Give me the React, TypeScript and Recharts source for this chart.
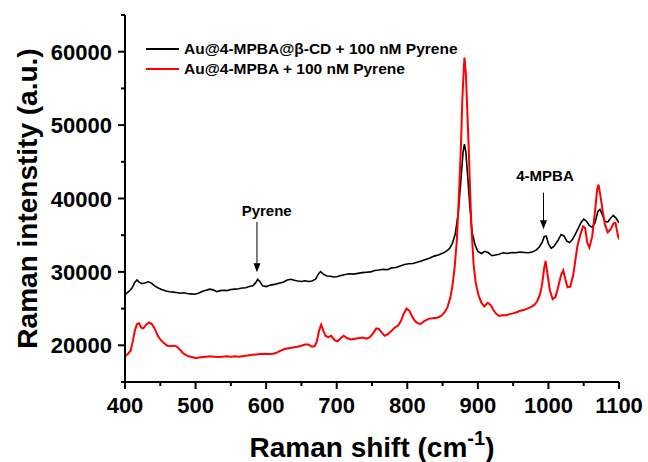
import { LineChart, Line, XAxis, YAxis, Legend, ReferenceLine, ReferenceDot } from 'recharts';

const FONT = 'Arial, "Liberation Sans", sans-serif';

// Au@4-MPBA@β-CD + 100 nM Pyrene (black)
const blackShift = [
  400, 405, 410, 414, 417, 420, 424, 428, 433, 437, 442, 447, 452, 458, 463, 468, 473, 478, 483, 488,
  493, 499, 504, 510, 515, 520, 525, 530, 535, 540, 545, 550, 556, 561, 566, 571, 576, 581, 585, 588,
  591, 595, 600, 606, 612, 618, 624, 630, 635, 640, 645, 650, 655, 660, 665, 670, 674, 677, 681, 686,
  691, 696, 700, 706, 712, 718, 724, 730, 736, 742, 748, 754, 760, 766, 772, 778, 784, 790, 796, 802,
  808, 814, 820, 826, 832, 838, 844, 850, 855, 860, 864, 868, 872, 876, 879, 881, 883, 886, 889, 892,
  896, 900, 905, 910, 915, 920, 925, 930, 936, 942, 948, 954, 960, 966, 972, 978, 983, 987, 991, 994,
  997, 1000, 1004, 1008, 1013, 1018, 1022, 1026, 1030, 1034, 1038, 1042, 1046, 1050, 1054, 1058, 1062,
  1066, 1070, 1073, 1076, 1080, 1084, 1088, 1092, 1096, 1100,
];
const blackIntensity = [
  26900, 27300, 27800, 28600, 28900, 28600, 28400, 28500, 28650, 28500, 28100, 27800, 27600, 27400, 27300, 27250, 27200, 27100, 27150, 27050,
  27000, 26950, 27100, 27350, 27500, 27650, 27550, 27300, 27450, 27500, 27450, 27600, 27650, 27700, 27800, 27850, 28000, 28100, 28500, 29000,
  28700, 28100, 28000, 28200, 28300, 28450, 28600, 28900, 29000, 28850, 28750, 28700, 28800, 28700, 28750, 29000, 29700, 30050, 29700, 29450,
  29400, 29300, 29350, 29500, 29650, 29750, 29700, 29800, 29900, 29950, 30000, 30200, 30250, 30350, 30300, 30550, 30600, 30800, 31000, 31100,
  31150, 31300, 31500, 31700, 31900, 32150, 32300, 32550, 32800, 33200, 33900, 35200, 37800, 42500, 46300, 47400, 46300, 42500, 38500, 35300,
  33700, 32800, 32500, 32800, 32600, 32200, 32300, 32400, 32600, 32500, 32650, 32600, 32700, 32650, 32600, 32750, 33000, 33400, 34000, 34800,
  34900, 33800, 33200, 33500, 34200, 35100, 34900, 34200, 34000, 34400, 35100, 35900, 36700, 37200, 36900, 36300, 36100,
  36700, 38200, 38500, 37900, 36900, 36800, 37300, 37700, 37300, 36700,
];

// Au@4-MPBA + 100 nM Pyrene (red)
const redShift = [
  400, 404, 408, 411, 414, 417, 420, 423, 426, 430, 434, 438, 442, 446, 450, 455, 460, 465, 470, 474,
  478, 482, 486, 490, 495, 500, 505, 510, 515, 520, 526, 532, 538, 544, 550, 556, 562, 568, 574, 580,
  586, 592, 598, 604, 610, 615, 620, 626, 632, 638, 644, 650, 655, 660, 665, 669, 672, 675, 678, 681,
  684, 688, 692, 697, 701, 706, 710, 715, 720, 726, 732, 737, 742, 747, 752, 756, 760, 764, 768, 772,
  777, 782, 787, 791, 795, 799, 803, 807, 811, 815, 819, 824, 830, 836, 842, 848, 853, 857, 861, 864,
  867, 870, 873, 876, 878, 880, 881, 883, 885, 887, 889, 891, 894, 897, 901, 905, 909, 914, 918, 922,
  926, 930, 935, 940, 945, 950, 955, 960, 965, 970, 975, 980, 984, 988, 991, 994, 996, 999, 1002, 1006,
  1010, 1014, 1018, 1021, 1024, 1027, 1031, 1035, 1038, 1041, 1045, 1049, 1052, 1055, 1058, 1062, 1066, 1069, 1071, 1074,
  1077, 1080, 1084, 1088, 1092, 1095, 1098, 1100,
];
const redIntensity = [
  18500, 18800, 19300, 20500, 22000, 22900, 23000, 22400, 22300, 22800, 23100, 22900, 22300, 21400, 20800, 20300, 19950, 19900, 19950, 19800,
  19400, 18950, 18700, 18500, 18400, 18250, 18350, 18400, 18450, 18500, 18450, 18400, 18450, 18500, 18450, 18500, 18450, 18550, 18600, 18700,
  18750, 18800, 18850, 18800, 18850, 19000, 19250, 19500, 19600, 19700, 19800, 19950, 20100, 20100, 19800, 19900, 20600, 22000, 22800, 22000,
  21300, 21100, 21300, 20700, 20550, 21000, 21300, 20950, 20800, 20900, 21000, 21050, 20900, 21100, 21700, 22300, 22200, 21700, 21300, 21500,
  21900, 22400, 22700, 23300, 24300, 25000, 24700, 23900, 23300, 23000, 22900, 23300, 23600, 23700, 23750, 24000, 24500, 25200, 26500, 28100,
  30500, 34000, 40000, 47000, 53500, 57500, 59200, 57000, 52000, 47000, 41000, 36000, 31000, 28500, 26800, 25800, 25300, 25800, 25500, 24800,
  24300, 24000, 24100, 24100, 24250, 24350, 24500, 24700, 24800, 25000, 25200, 25500, 26000, 26900, 28300, 30500, 31500, 29500, 27500, 26300,
  26600, 28000, 29600, 30200, 29000, 27900, 28000, 29500, 31500, 33500, 35000, 36200, 36000, 34000, 33300, 34800, 38200, 41200, 41900, 40200,
  38200, 36500, 35400, 35800, 36600, 36700, 35200, 34400,
];

const xTicks = [400, 450, 500, 550, 600, 650, 700, 750, 800, 850, 900, 950, 1000, 1050, 1100];
const yTicks = [15000, 20000, 25000, 30000, 35000, 40000, 45000, 50000, 55000, 60000, 65000];

const seriesNames = ['Au@4-MPBA@β-CD + 100 nM Pyrene', 'Au@4-MPBA + 100 nM Pyrene'];
const seriesColors = ['#000000', '#ff0000'];

const blackData = blackShift.map((x, i) => ({ x, y: blackIntensity[i] }));
const redData = redShift.map((x, i) => ({ x, y: redIntensity[i] }));

const XTick = (props: any) => {
  const { x, y, payload } = props;
  const major = payload.value % 100 === 0;
  return (
    <g>
      <line x1={x} x2={x} y1={y} y2={y + (major ? 7 : 4)} stroke="#000" strokeWidth={2} />
      {major && (
        <text x={x} y={y + 31} textAnchor="middle" fontFamily={FONT} fontWeight="bold" fontSize={22} fill="#000">
          {payload.value}
        </text>
      )}
    </g>
  );
};

const YTick = (props: any) => {
  const { x, y, payload } = props;
  const major = payload.value % 10000 === 0;
  return (
    <g>
      <line x1={x - (major ? 7 : 4)} x2={x} y1={y} y2={y} stroke="#000" strokeWidth={2} />
      {major && (
        <text x={x - 13} y={y + 8} textAnchor="end" fontFamily={FONT} fontWeight="bold" fontSize={22} fill="#000">
          {payload.value}
        </text>
      )}
    </g>
  );
};

const LegendBox = () => (
  <div style={{ fontFamily: FONT, fontWeight: 'bold', fontSize: 15.5, color: '#000' }}>
    {seriesNames.map((name, i) => (
      <div key={name} style={{ display: 'flex', alignItems: 'center', height: 19.5 }}>
        <svg width={38} height={4}>
          <line x1={0} x2={33} y1={2} y2={2} stroke={seriesColors[i]} strokeWidth={2} />
        </svg>
        <span style={{ whiteSpace: 'nowrap' }}>{name}</span>
      </div>
    ))}
  </div>
);

const ArrowHead = (props: any) => {
  const { cx, cy } = props;
  return <path d={`M${cx - 3.5},${cy - 9} L${cx + 3.5},${cy - 9} L${cx},${cy} Z`} fill="#000" />;
};

const makeLabel = (text: string) => (props: any) => (
  <text x={props.cx} y={props.cy} textAnchor="middle" fontFamily={FONT} fontWeight="bold" fontSize={15} fill="#000">
    {text}
  </text>
);

export default function App() {
  return (
    <div style={{ position: 'absolute', left: 0, top: 0, background: '#fff' }}>
      <LineChart width={648} height={462} margin={{ top: 15, right: 29, left: 0, bottom: 0 }}>
        <XAxis
          type="number"
          dataKey="x"
          domain={[400, 1100]}
          ticks={xTicks}
          interval={0}
          height={80}
          tickSize={0}
          tickMargin={0}
          tickLine={false}
          axisLine={{ stroke: '#000', strokeWidth: 2 }}
          tick={<XTick />}
          allowDataOverflow
          label={(p: any) => {
            const vb = p.viewBox;
            const cx = vb.x + vb.width / 2;
            return (
              <text x={cx} y={vb.y + 75} textAnchor="middle" fontFamily={FONT} fontWeight="bold" fontSize={28} fill="#000">
                Raman shift (cm
                <tspan fontSize={20} dy={-12}>-1</tspan>
                <tspan dy={12}>)</tspan>
              </text>
            );
          }}
        />
        <YAxis
          type="number"
          domain={[15000, 65000]}
          ticks={yTicks}
          interval={0}
          width={125}
          tickSize={0}
          tickMargin={0}
          tickLine={false}
          axisLine={{ stroke: '#000', strokeWidth: 2 }}
          tick={<YTick />}
          allowDataOverflow
          label={(p: any) => {
            const vb = p.viewBox;
            const cy = vb.y + vb.height / 2;
            return (
              <text
                x={37}
                y={cy}
                transform={`rotate(-90 37 ${cy})`}
                textAnchor="middle"
                fontFamily={FONT}
                fontWeight="bold"
                fontSize={28}
                fill="#000"
              >
                Raman intenstity (a.u.)
              </text>
            );
          }}
        />
        <Legend
          layout="vertical"
          verticalAlign="middle"
          align="center"
          content={<LegendBox />}
          wrapperStyle={{ position: 'absolute', left: 146, top: 39.25, width: 'auto' }}
        />
        <Line data={blackData} dataKey="y" stroke={seriesColors[0]} strokeWidth={1.6} dot={false} isAnimationActive={false} name={seriesNames[0]} />
        <Line data={redData} dataKey="y" stroke={seriesColors[1]} strokeWidth={2} dot={false} isAnimationActive={false} name={seriesNames[1]} />
        <ReferenceLine segment={[{ x: 587, y: 36800 }, { x: 587, y: 31000 }]} stroke="#000" strokeWidth={1} ifOverflow="visible" />
        <ReferenceDot x={587} y={29950} r={0} shape={<ArrowHead />} ifOverflow="visible" />
        <ReferenceDot x={600.8} y={37640} r={0} shape={makeLabel('Pyrene')} ifOverflow="visible" />
        <ReferenceLine segment={[{ x: 993, y: 40800 }, { x: 993, y: 36800 }]} stroke="#000" strokeWidth={1} ifOverflow="visible" />
        <ReferenceDot x={993} y={35800} r={0} shape={<ArrowHead />} ifOverflow="visible" />
        <ReferenceDot x={995.2} y={42330} r={0} shape={makeLabel('4-MPBA')} ifOverflow="visible" />
      </LineChart>
    </div>
  );
}
